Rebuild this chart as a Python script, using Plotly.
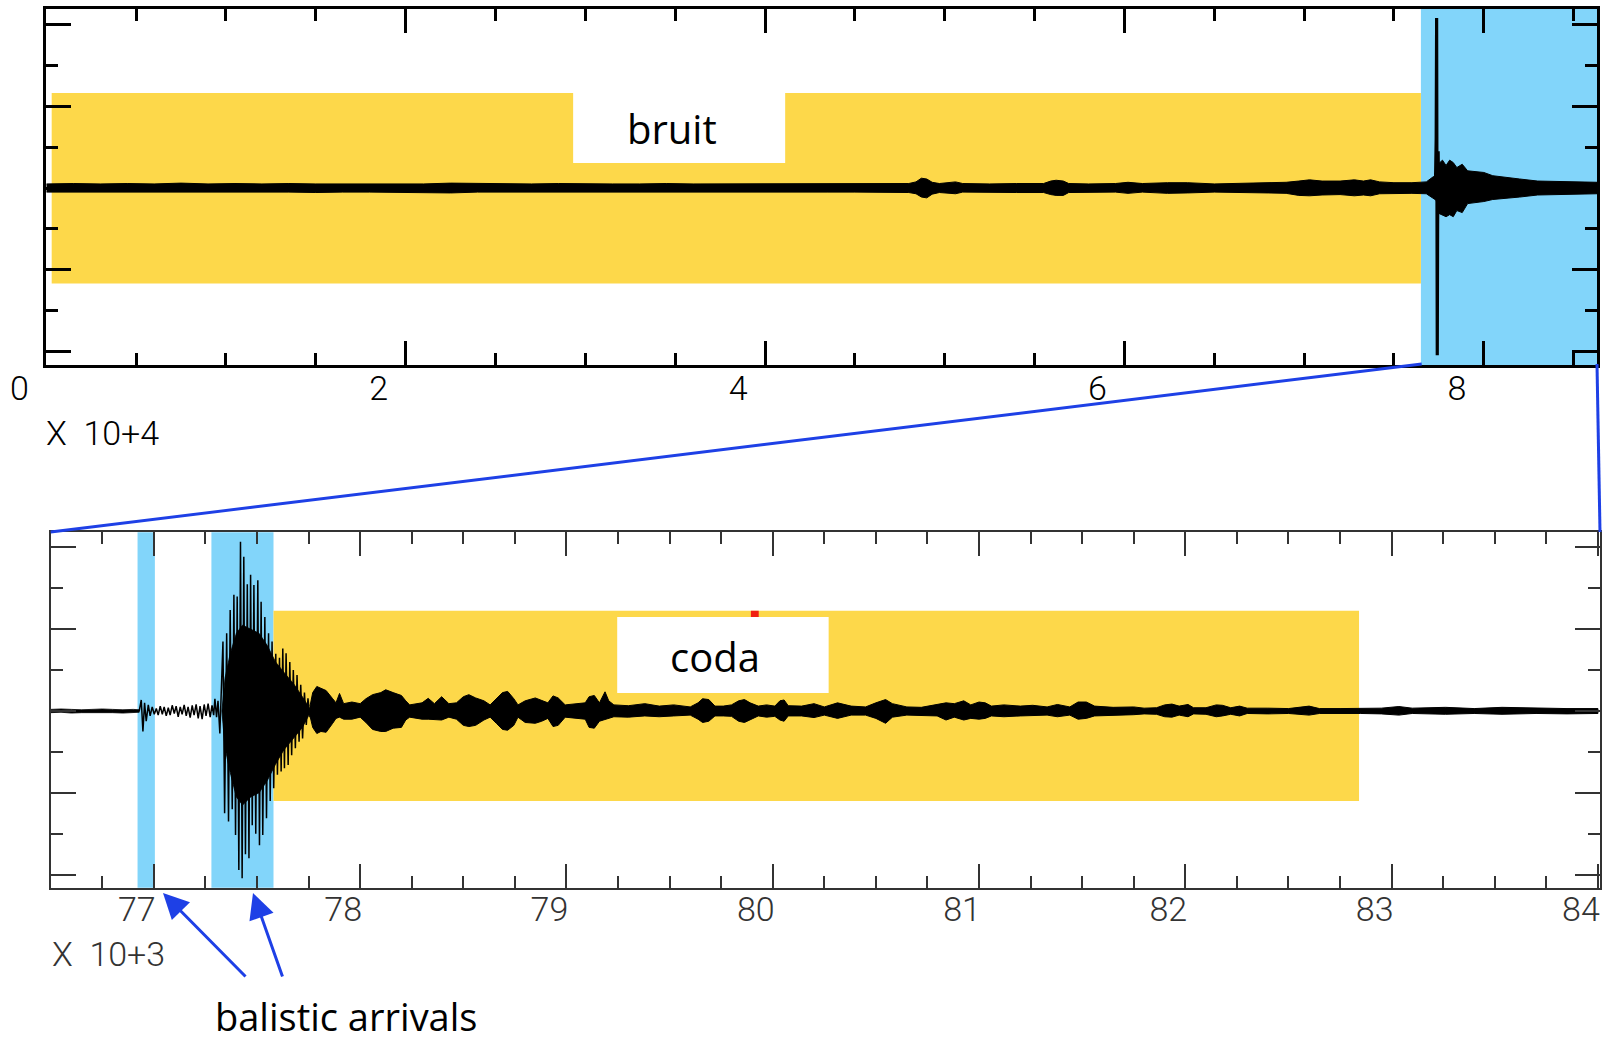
import plotly.graph_objects as go

# ---------------- DATA ----------------
# Top trace (time in units of 10^4, amplitude in tick units): envelope of the noisy record
top_t = [0.00, 0.15, 0.30, 0.45, 0.60, 0.75, 0.90, 1.05, 1.20, 1.35, 1.50, 1.65, 1.80, 1.95,
         2.10, 2.25, 2.40, 2.55, 2.70, 2.85, 3.00, 3.15, 3.30, 3.45, 3.60, 3.75, 3.90, 4.05,
         4.20, 4.35, 4.50, 4.65, 4.80, 4.84, 4.87, 4.90, 4.93, 4.97, 5.06, 5.10, 5.25, 5.40,
         5.55, 5.59, 5.62, 5.66, 5.69, 5.80, 5.95, 6.02, 6.10, 6.24, 6.35, 6.50, 6.65, 6.80,
         6.90, 6.97, 7.03, 7.10, 7.20, 7.28, 7.33, 7.37, 7.42, 7.50, 7.60, 7.68, 7.72, 7.735,
         7.75, 7.77, 7.79, 7.81, 7.83, 7.85, 7.88, 7.91, 7.95, 8.00, 8.05, 8.10, 8.20, 8.30,
         8.40, 8.50, 8.63]
top_hi = [0.10, 0.11, 0.10, 0.11, 0.10, 0.12, 0.10, 0.11, 0.10, 0.11, 0.10, 0.10, 0.11, 0.10,
          0.10, 0.12, 0.11, 0.10, 0.10, 0.11, 0.10, 0.10, 0.10, 0.11, 0.10, 0.10, 0.10, 0.11,
          0.10, 0.10, 0.11, 0.10, 0.11, 0.15, 0.24, 0.22, 0.14, 0.11, 0.15, 0.11, 0.10, 0.11,
          0.11, 0.17, 0.19, 0.17, 0.11, 0.10, 0.11, 0.14, 0.11, 0.13, 0.13, 0.10, 0.11, 0.12,
          0.14, 0.17, 0.20, 0.17, 0.17, 0.20, 0.17, 0.20, 0.15, 0.13, 0.13, 0.15, 0.28, 0.30,
          0.60, 0.68, 0.55, 0.68, 0.62, 0.50, 0.58, 0.42, 0.40, 0.38, 0.30, 0.27, 0.22, 0.17,
          0.16, 0.15, 0.14]
top_lo = [-0.10, -0.10, -0.11, -0.10, -0.10, -0.11, -0.10, -0.11, -0.10, -0.10, -0.11, -0.10, -0.10, -0.10,
          -0.11, -0.12, -0.10, -0.10, -0.10, -0.10, -0.10, -0.11, -0.10, -0.10, -0.10, -0.10, -0.10, -0.11,
          -0.10, -0.10, -0.10, -0.10, -0.11, -0.14, -0.22, -0.24, -0.15, -0.11, -0.14, -0.10, -0.10, -0.11,
          -0.11, -0.16, -0.18, -0.18, -0.11, -0.10, -0.10, -0.13, -0.10, -0.13, -0.12, -0.10, -0.11, -0.12,
          -0.13, -0.18, -0.19, -0.17, -0.16, -0.19, -0.17, -0.19, -0.14, -0.13, -0.13, -0.14, -0.25, -0.30,
          -0.62, -0.66, -0.70, -0.65, -0.70, -0.55, -0.60, -0.38, -0.35, -0.33, -0.28, -0.25, -0.22, -0.17,
          -0.15, -0.15, -0.14]
# main spike of the top record
spike_t = [7.731, 7.735, 7.7375, 7.7395, 7.741, 7.743, 7.746, 7.749]
spike_a = [0.10, 1.20, 4.15, 1.00, -4.08, -0.90, 0.90, -0.60]

# Bottom trace (time in units of 10^3)
pre_t = [76.50, 76.55, 76.60, 76.65, 76.70, 76.75, 76.80, 76.85, 76.90, 76.929]
pre_hi = [0.04, 0.05, 0.04, 0.03, 0.04, 0.05, 0.04, 0.03, 0.04, 0.03]
pre_lo = [-0.04, -0.03, -0.05, -0.04, -0.03, -0.04, -0.04, -0.05, -0.04, -0.03]

wig_t = [76.929, 76.939, 76.947, 76.955, 76.963, 76.973, 76.982, 76.992, 77.002, 77.012,
         77.021, 77.031, 77.041, 77.050, 77.060, 77.070, 77.079, 77.089, 77.099, 77.108,
         77.118, 77.128, 77.137, 77.147, 77.157, 77.166, 77.176, 77.186, 77.195, 77.205,
         77.215, 77.224, 77.234, 77.244, 77.253, 77.263, 77.273, 77.282, 77.290, 77.296,
         77.304, 77.311, 77.320, 77.335, 77.343, 77.353, 77.362, 77.370, 77.380, 77.388,
         77.396, 77.404, 77.412, 77.420, 77.428, 77.436, 77.444, 77.453, 77.461, 77.469,
         77.477, 77.485, 77.494, 77.504, 77.512, 77.520, 77.528, 77.538, 77.546, 77.556,
         77.564, 77.573, 77.581, 77.591, 77.599, 77.609, 77.617, 77.625, 77.633, 77.641,
         77.651, 77.659, 77.668, 77.676, 77.686, 77.694, 77.704, 77.712, 77.721, 77.730,
         77.739, 77.747, 77.757, 77.762]
wig_a = [0.00, 0.27, -0.50, 0.20, -0.25, 0.15, -0.12, 0.10, -0.08, 0.06,
         -0.10, 0.12, -0.08, 0.10, -0.12, 0.08, -0.10, 0.14, -0.06, 0.12,
         -0.14, 0.10, -0.08, 0.15, -0.12, 0.10, -0.16, 0.14, -0.10, 0.16,
         -0.18, 0.12, -0.20, 0.16, -0.12, 0.18, -0.15, 0.14, -0.10, 0.30,
         -0.15, 0.25, -0.55, 1.70, -2.50, 1.90, -2.70, 2.47, -2.40, 2.84,
         -3.03, 2.80, -3.89, 4.14, -4.09, 3.77, -3.50, 3.10, -3.60, 3.33,
         -2.79, 3.08, -3.00, 3.20, -3.28, 2.67, -3.03, 2.30, -2.62, 1.90,
         -2.20, 1.70, -1.89, 1.40, -1.56, 1.30, -1.48, 1.53, -1.40, 1.41,
         -1.32, 1.20, -1.08, 1.00, -0.91, 0.88, -0.75, 0.64, -0.67, 0.45,
         -0.34, 0.31, -0.15, 0.00]

core_t = [77.330, 77.345, 77.370, 77.400, 77.430, 77.470, 77.510, 77.550, 77.590, 77.630,
          77.680, 77.720, 77.757]
core_hi = [0.0, 0.8, 1.4, 1.9, 2.1, 2.0, 1.9, 1.6, 1.2, 0.95, 0.65, 0.35, 0.05]
core_lo = [0.0, -0.9, -1.5, -2.1, -2.3, -2.1, -2.0, -1.7, -1.3, -0.95, -0.65, -0.40, -0.05]

coda_t = [77.757, 77.770, 77.790, 77.810, 77.835, 77.867, 77.883, 77.900, 77.920, 77.960,
          78.000, 78.028, 78.060, 78.100, 78.124, 78.160, 78.200, 78.221, 78.240, 78.300,
          78.330, 78.360, 78.395, 78.430, 78.467, 78.500, 78.527, 78.560, 78.600, 78.630,
          78.660, 78.690, 78.715, 78.745, 78.765, 78.800, 78.849, 78.880, 78.910, 78.935,
          78.960, 78.994, 79.040, 79.091, 79.110, 79.135, 79.160, 79.187, 79.205, 79.230,
          79.300, 79.380, 79.450, 79.520, 79.600, 79.638, 79.660, 79.690, 79.720, 79.760,
          79.800, 79.835, 79.863, 79.890, 79.930, 79.970, 80.010, 80.035, 80.055, 80.075,
          80.140, 80.200, 80.250, 80.314, 80.380, 80.450, 80.500, 80.547, 80.580, 80.650,
          80.720, 80.797, 80.840, 80.880, 80.926, 80.960, 81.000, 81.030, 81.060, 81.120,
          81.200, 81.260, 81.330, 81.380, 81.440, 81.480, 81.520, 81.560, 81.650, 81.750,
          81.800, 81.860, 81.900, 81.935, 81.970, 82.013, 82.040, 82.100, 82.150, 82.180,
          82.220, 82.263, 82.300, 82.400, 82.500, 82.600, 82.650, 82.750, 82.850, 82.950,
          83.035, 83.100, 83.261, 83.400, 83.535, 83.700, 83.850, 84.000]
coda_hi = [0.12, 0.45, 0.60, 0.55, 0.50, 0.30, 0.20, 0.43, 0.18, 0.22,
           0.18, 0.30, 0.40, 0.45, 0.52, 0.45, 0.38, 0.25, 0.15, 0.20,
           0.31, 0.18, 0.35, 0.18, 0.20, 0.35, 0.40, 0.32, 0.25, 0.15,
           0.30, 0.45, 0.48, 0.30, 0.15, 0.25, 0.32, 0.25, 0.20, 0.37,
           0.32, 0.15, 0.18, 0.20, 0.35, 0.38, 0.20, 0.47, 0.25, 0.15,
           0.13, 0.18, 0.12, 0.15, 0.10, 0.20, 0.30, 0.28, 0.12, 0.12,
           0.15, 0.25, 0.28, 0.20, 0.12, 0.15, 0.12, 0.25, 0.27, 0.13,
           0.12, 0.18, 0.10, 0.20, 0.12, 0.10, 0.20, 0.28, 0.18, 0.10,
           0.09, 0.15, 0.20, 0.18, 0.25, 0.15, 0.22, 0.20, 0.12, 0.15,
           0.12, 0.14, 0.10, 0.16, 0.10, 0.22, 0.22, 0.12, 0.09, 0.10,
           0.07, 0.08, 0.15, 0.17, 0.12, 0.16, 0.08, 0.08, 0.15, 0.14,
           0.08, 0.12, 0.07, 0.07, 0.06, 0.12, 0.06, 0.06, 0.06, 0.07,
           0.11, 0.07, 0.09, 0.06, 0.09, 0.07, 0.06, 0.06]
coda_lo = [-0.12, -0.40, -0.55, -0.50, -0.52, -0.30, -0.18, -0.15, -0.20, -0.20,
           -0.15, -0.28, -0.45, -0.50, -0.50, -0.42, -0.40, -0.22, -0.15, -0.20,
           -0.20, -0.20, -0.22, -0.15, -0.20, -0.35, -0.38, -0.35, -0.22, -0.15,
           -0.30, -0.45, -0.47, -0.35, -0.15, -0.28, -0.30, -0.25, -0.18, -0.38,
           -0.35, -0.15, -0.18, -0.20, -0.40, -0.42, -0.25, -0.20, -0.18, -0.14,
           -0.15, -0.12, -0.14, -0.12, -0.10, -0.20, -0.28, -0.25, -0.12, -0.12,
           -0.13, -0.25, -0.28, -0.22, -0.12, -0.15, -0.13, -0.22, -0.25, -0.12,
           -0.12, -0.16, -0.10, -0.18, -0.10, -0.10, -0.18, -0.30, -0.15, -0.10,
           -0.10, -0.12, -0.22, -0.15, -0.22, -0.18, -0.20, -0.18, -0.12, -0.14,
           -0.12, -0.12, -0.10, -0.14, -0.10, -0.20, -0.18, -0.12, -0.10, -0.09,
           -0.07, -0.08, -0.14, -0.15, -0.10, -0.14, -0.07, -0.08, -0.14, -0.12,
           -0.08, -0.12, -0.06, -0.07, -0.06, -0.10, -0.06, -0.06, -0.06, -0.07,
           -0.10, -0.06, -0.08, -0.06, -0.08, -0.06, -0.07, -0.06]

# windows (x in axis units, amplitude limits)
noise_win = [0.03, 7.65]
noise_amp = [-2.33, 2.32]
zoom_win = [7.65, 8.63]
ballistic_wins = [[76.921, 77.005], [77.279, 77.580]]
coda_win = [77.58, 82.842]
coda_amp = [-2.20, 2.45]
pick_mark = [79.894, 79.932]

top_tick_vals = [0, 2, 4, 6, 8]
top_tick_text = ["0", "2", "4", "6", "8"]
bot_tick_vals = [77, 78, 79, 80, 81, 82, 83, 84]
bot_tick_text = ["77", "78", "79", "80", "81", "82", "83", "84"]
y_tick_vals = [-4, -2, 0, 2, 4]

labels = {"noise": "bruit", "coda": "coda", "ballistic": "balistic arrivals",
          "top_mult": "X\u00a0 10+4", "bot_mult": "X\u00a0 10+3"}

# ---------------- STYLE ----------------
W, H = 1602, 1042
YELLOW = "#FDD84A"
SKY = "#82D5FA"
BLUE = "#1E40E6"
NARROW = "Roboto, Liberation Sans, sans-serif"
TXT = "Open Sans, Lato, sans-serif"


def px(xp):
    return xp / W


def py(yp):
    return 1 - yp / H


fig = go.Figure()


def band(t, hi, lo, xa, ya, lw=1.0):
    fig.add_trace(go.Scatter(
        x=list(t) + list(t)[::-1], y=list(hi) + list(lo)[::-1],
        fill="toself", fillcolor="black", mode="lines",
        line=dict(color="black", width=lw), xaxis=xa, yaxis=ya,
        hoverinfo="skip", showlegend=False))


band(top_t, top_hi, top_lo, "x", "y", 1.0)
fig.add_trace(go.Scatter(x=spike_t, y=spike_a, mode="lines", line=dict(color="black", width=3.2),
                         xaxis="x", yaxis="y", hoverinfo="skip", showlegend=False))

band(pre_t, pre_hi, pre_lo, "x2", "y2", 0.8)
band(core_t, core_hi, core_lo, "x2", "y2", 0.8)
fig.add_trace(go.Scatter(x=wig_t, y=wig_a, mode="lines", line=dict(color="black", width=1.5),
                         xaxis="x2", yaxis="y2", hoverinfo="skip", showlegend=False))
band(coda_t, coda_hi, coda_lo, "x2", "y2", 1.0)

shapes = []
# top panel windows
shapes.append(dict(type="rect", xref="x", yref="y", x0=noise_win[0], x1=noise_win[1],
                   y0=noise_amp[0], y1=noise_amp[1], fillcolor=YELLOW, line=dict(width=0), layer="below"))
shapes.append(dict(type="rect", xref="x", yref="y domain", x0=zoom_win[0], x1=zoom_win[1],
                   y0=0, y1=1, fillcolor=SKY, line=dict(width=0), layer="below"))
shapes.append(dict(type="rect", xref="x", yref="y", x0=2.932, x1=4.112, y0=0.61, y1=2.32,
                   fillcolor="white", line=dict(width=0), layer="below"))
# bottom panel windows
for w in ballistic_wins:
    shapes.append(dict(type="rect", xref="x2", yref="y2 domain", x0=w[0], x1=w[1], y0=0, y1=1,
                       fillcolor=SKY, line=dict(width=0), layer="below"))
shapes.append(dict(type="rect", xref="x2", yref="y2", x0=coda_win[0], x1=coda_win[1],
                   y0=coda_amp[0], y1=coda_amp[1], fillcolor=YELLOW, line=dict(width=0), layer="below"))
shapes.append(dict(type="rect", xref="x2", yref="y2", x0=79.246, x1=80.271, y0=0.44, y1=2.30,
                   fillcolor="white", line=dict(width=0), layer="below"))
shapes.append(dict(type="rect", xref="x2", yref="y2", x0=pick_mark[0], x1=pick_mark[1], y0=2.30, y1=2.45,
                   fillcolor="#F02010", line=dict(width=0), layer="below"))
# zoom connector lines
shapes.append(dict(type="line", xref="paper", yref="paper", x0=px(1421.7), y0=py(364), x1=px(50.7), y1=py(532),
                   line=dict(color=BLUE, width=3)))
shapes.append(dict(type="line", xref="paper", yref="paper", x0=px(1597), y0=py(364), x1=px(1600), y1=py(532),
                   line=dict(color=BLUE, width=3)))

annotations = [
    dict(text=labels["noise"], xref="x", yref="y", x=3.483, y=1.45, showarrow=False,
         xanchor="center", yanchor="middle", font=dict(family=TXT, size=40, color="black")),
    dict(text=labels["coda"], xref="x2", yref="y2", x=79.72, y=1.33, showarrow=False,
         xanchor="center", yanchor="middle", font=dict(family=TXT, size=40, color="black")),
    dict(text=labels["ballistic"], xref="paper", yref="paper", x=px(346), y=py(1016), showarrow=False,
         xanchor="center", yanchor="middle", font=dict(family=TXT, size=38, color="black")),
    dict(text=labels["top_mult"], xref="paper", yref="paper", x=px(44), y=py(433), xanchor="left",
         yanchor="middle", showarrow=False, font=dict(family=NARROW, size=34, color="black", weight=300)),
    dict(text=labels["bot_mult"], xref="paper", yref="paper", x=px(50), y=py(954), xanchor="left",
         yanchor="middle", showarrow=False, font=dict(family=NARROW, size=34, color="#333333", weight=300)),
    dict(text="", xref="paper", yref="paper", x=px(163), y=py(893), ax=84, ay=85,
         showarrow=True, arrowhead=2, arrowsize=1.7, arrowwidth=3, arrowcolor=BLUE, standoff=0),
    dict(text="", xref="paper", yref="paper", x=px(253), y=py(893), ax=30, ay=85,
         showarrow=True, arrowhead=2, arrowsize=1.7, arrowwidth=3, arrowcolor=BLUE, standoff=0),
]


def xaxis_style(rng, dom, anchor, vals, text, minor_dt, lcol, lw, tw, shift):
    return dict(range=rng, domain=dom, anchor=anchor, showline=True, linecolor=lcol, linewidth=lw,
                mirror="ticks", ticks="inside", ticklen=24, tickwidth=tw, tickcolor=lcol,
                tickmode="array", tickvals=vals, ticktext=text,
                minor=dict(ticks="inside", ticklen=12, tickwidth=tw, tickcolor=lcol,
                           tickmode="linear", dtick=minor_dt, tick0=vals[0]),
                showgrid=False, zeroline=False, fixedrange=True, automargin=False,
                tickfont=dict(family=NARROW, size=34, color=lcol, weight=300),
                ticklabelshift=shift, ticklabelstandoff=-9)


def yaxis_style(dom, anchor, lcol, lw, tw):
    return dict(range=[-4.32, 4.37], domain=dom, anchor=anchor, showline=True, linecolor=lcol,
                linewidth=lw, mirror="ticks", ticks="inside", ticklen=25, tickwidth=tw, tickcolor=lcol,
                tickmode="array", tickvals=y_tick_vals, showticklabels=False,
                minor=dict(ticks="inside", ticklen=12, tickwidth=tw, tickcolor=lcol,
                           tickmode="linear", dtick=1, tick0=0),
                showgrid=False, zeroline=False, fixedrange=True, automargin=False)


fig.update_layout(
    width=W, height=H, autosize=False, margin=dict(l=0, r=0, t=0, b=0, autoexpand=False),
    paper_bgcolor="white", plot_bgcolor="white", showlegend=False,
    xaxis=xaxis_style([0, 8.63], [px(46.3), px(1597)], "y", top_tick_vals, top_tick_text, 0.5,
                      "black", 2.5, 2.5, -27),
    yaxis=yaxis_style([py(365), py(9)], "x", "black", 2.5, 2.5),
    xaxis2=xaxis_style([76.5, 84.01], [px(50.7), px(1600)], "y2", bot_tick_vals, bot_tick_text, 0.25,
                       "#333333", 1.7, 2.0, -17),
    yaxis2=yaxis_style([py(887.7), py(532.3)], "x2", "#333333", 1.7, 2.0),
    shapes=shapes, annotations=annotations,
)

fig.write_html("out.html")
